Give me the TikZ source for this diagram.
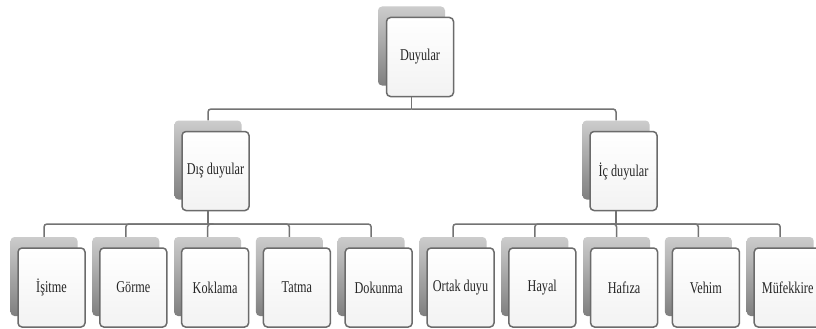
\documentclass[tikz,border=0pt]{standalone}
\usepackage{fontspec}
\newfontfamily\cardfont[FakeStretch=0.74]{Liberation Serif}
\begin{document}
\begin{tikzpicture}[x=1pt,y=-1pt,
  backcard/.style={rectangle, rounded corners=4pt, minimum width=67pt, minimum height=79pt,
    inner sep=0pt, top color=black!20, bottom color=black!50, draw=none},
  frontcard/.style={rectangle, rounded corners=4pt, minimum width=67pt, minimum height=79pt,
    inner sep=0pt, top color=white, bottom color=black!5, draw=black!58, line width=1.5pt,
    font=\cardfont\fontsize{16.5}{18}\selectfont, text=black!85},
  conn/.style={draw=black!55, line width=1.5pt},
  rconn/.style={conn, rounded corners=3pt}]
\useasboundingbox (0,0) rectangle (816,329);
\fill[white] (0,0) rectangle (816,329);

% level 1
\node[backcard] (b0) at (411.5,46) {};
\node[frontcard] (f0) at (420,57) {Duyular};
% level 2
\node[backcard] (b1) at (208,160) {};
\node[frontcard] (f1) at (215.5,171) {Dış duyular};
\node[backcard] (b2) at (616,160) {};
\node[frontcard] (f2) at (623.5,171) {İç duyular};
% level 3
\foreach \i/\lbl [count=\k] in {0/İşitme,1/Görme,2/Koklama,3/Tatma,4/Dokunma,5/Ortak duyu,6/Hayal,7/Hafıza,8/Vehim,9/Müfekkire}{
  \node[backcard] (c\k) at ({44+81.8*\i},276.5) {};
  \node[frontcard] (d\k) at ({51.5+81.8*\i},287.5) {\lbl};
}

% connectors
\coordinate (busA) at (411.5,109);
\coordinate (busB) at (208,224);
\coordinate (busC) at (616,224);
\draw[conn] (f0.south -| busA) -- (busA);
\draw[rconn] (b1.north) |- (busA);
\draw[rconn] (b2.north) |- (busA);
\draw[conn] (f1.south -| busB) -- (busB);
\draw[conn] (f2.south -| busC) -- (busC);
\foreach \k in {1,...,5}{\draw[rconn] (c\k.north) |- (busB);}
\foreach \k in {6,...,10}{\draw[rconn] (c\k.north) |- (busC);}
\end{tikzpicture}
\end{document}
